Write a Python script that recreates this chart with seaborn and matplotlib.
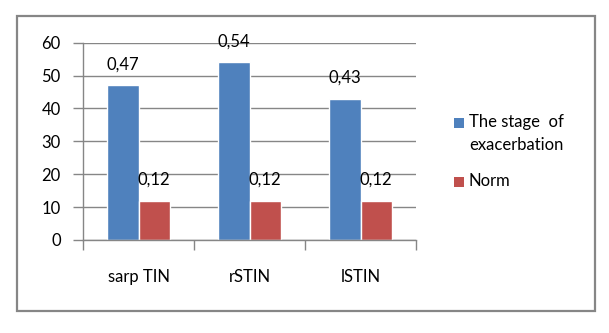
import numpy as np
import pandas as pd
import matplotlib
matplotlib.use("Agg")
import matplotlib.pyplot as plt
from matplotlib.patches import Rectangle
import seaborn as sns

categories = ["sarp TIN", "rSTIN", "lSTIN"]
exacerbation = [47, 54, 43]
norm = [12, 12, 12]
exac_labels = ["0,47", "0,54", "0,43"]
norm_labels = ["0,12", "0,12", "0,12"]
series_names = ["The stage  of\nexacerbation", "Norm"]
yticks = [0, 10, 20, 30, 40, 50, 60]
colors = ["#4F81BD", "#C0504D"]

df = pd.DataFrame({
    "category": categories * 2,
    "value": exacerbation + norm,
    "series": [series_names[0]] * 3 + [series_names[1]] * 3,
})

sns.set_theme(style="white")
plt.rcParams["font.family"] = ["Lato", "DejaVu Sans"]
FS = 12

W, H = 609, 333
fig = plt.figure(figsize=(W / 100, H / 100), dpi=100)
fig.patch.set_facecolor("white")

# outer frame
fig.add_artist(Rectangle((17 / W, 1 - 311 / H), 578 / W, 295 / H, transform=fig.transFigure,
                         facecolor="white", edgecolor="#868686", lw=1.6, zorder=-1))

ax = fig.add_axes([83 / W, 1 - 240 / H, (416 - 83) / W, (240 - 42.7) / H])
ax.set_facecolor("none")
sns.barplot(data=df, x="category", y="value", hue="series", palette=colors,
            width=0.56, ax=ax, legend=False, saturation=1, errorbar=None)
ax.set_ylim(0, 60)
ax.set_xlim(-0.5, 2.5)
ax.set_yticks(yticks)
ax.yaxis.grid(True, color="#868686", lw=1)
ax.set_axisbelow(True)
for s in ["top", "right"]:
    ax.spines[s].set_visible(False)
for s in ["left", "bottom"]:
    ax.spines[s].set_color("#868686")
    ax.spines[s].set_linewidth(1)
ax.set_xlabel("")
ax.set_ylabel("")
ax.tick_params(axis="y", left=True, length=7, width=1, color="#868686", direction="out",
               pad=9, labelsize=FS, labelcolor="black")
ax.set_xticks([-0.5, 0.5, 1.5, 2.5], minor=True)
ax.tick_params(axis="x", which="minor", bottom=True, length=7, width=1, color="#868686", direction="out")
ax.tick_params(axis="x", which="major", bottom=False, length=0, pad=21, labelsize=FS, labelcolor="black")

for container, labels in zip(ax.containers, [exac_labels, norm_labels]):
    for p, lbl in zip(container.patches, labels):
        ax.annotate(lbl, (p.get_x() + p.get_width() / 2, p.get_height()),
                    xytext=(0, 15), textcoords="offset points", ha="center", va="center",
                    fontsize=FS, color="black", annotation_clip=False)

# legend (manual, Excel-style)
def fx(px):
    return px / W

def fy(py):
    return 1 - py / H

fig.add_artist(Rectangle((fx(454), fy(128)), 10 / W, 10 / H, transform=fig.transFigure,
                         facecolor=colors[0], edgecolor="none"))
fig.text(fx(469), fy(122), "The stage  of", ha="left", va="center", fontsize=FS, color="black")
fig.text(fx(469), fy(145), "exacerbation", ha="left", va="center", fontsize=FS, color="black")
fig.add_artist(Rectangle((fx(454), fy(187)), 10 / W, 10 / H, transform=fig.transFigure,
                         facecolor=colors[1], edgecolor="none"))
fig.text(fx(469), fy(181), "Norm", ha="left", va="center", fontsize=FS, color="black")

fig.savefig("out.png", dpi=100)
